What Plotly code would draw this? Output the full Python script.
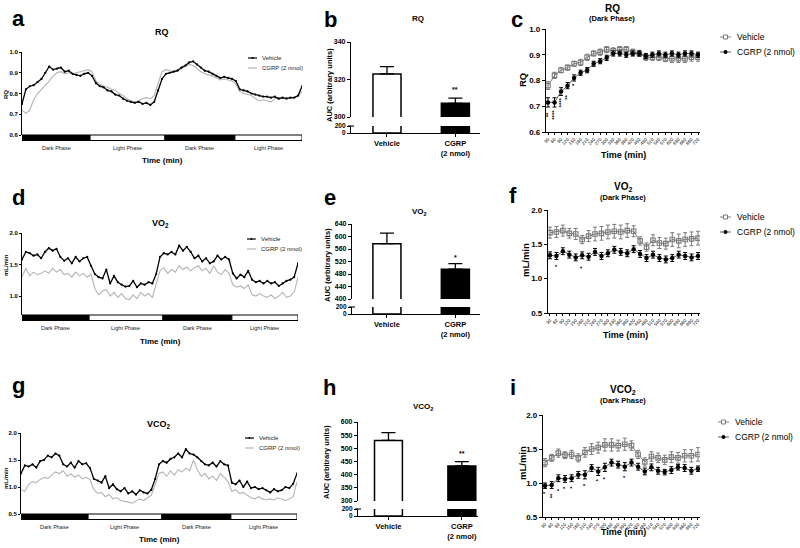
import plotly.graph_objects as go

W, H = 800, 548
FONT = "Liberation Sans, Arial, sans-serif"

# ======================= DATA =======================
# Panels a, d, g : 48 h recordings, one value every 40 min
ts_minutes = list(range(0, 2881, 40))
rq_vehicle = [0.75, 0.82, 0.835, 0.84, 0.855, 0.87, 0.90, 0.93, 0.915, 0.92, 0.925, 0.905, 0.91, 0.895, 0.89,
              0.885, 0.895, 0.90, 0.885, 0.85, 0.835, 0.83, 0.815, 0.81, 0.795, 0.79, 0.775, 0.765, 0.76, 0.755,
              0.76, 0.75, 0.755, 0.745, 0.76, 0.815, 0.87, 0.895, 0.90, 0.905, 0.91, 0.925, 0.935, 0.95, 0.955,
              0.94, 0.925, 0.91, 0.905, 0.895, 0.885, 0.875, 0.88, 0.875, 0.87, 0.86, 0.82, 0.815, 0.81, 0.80,
              0.795, 0.79, 0.785, 0.785, 0.78, 0.785, 0.775, 0.78, 0.775, 0.78, 0.78, 0.79, 0.835]
rq_cgrp = [0.72, 0.705, 0.72, 0.77, 0.80, 0.82, 0.835, 0.86, 0.885, 0.90, 0.905, 0.895, 0.90, 0.895, 0.90,
           0.905, 0.91, 0.915, 0.905, 0.86, 0.845, 0.835, 0.83, 0.82, 0.815, 0.80, 0.79, 0.775, 0.765, 0.76,
           0.765, 0.775, 0.78, 0.775, 0.79, 0.85, 0.905, 0.915, 0.91, 0.905, 0.915, 0.92, 0.93, 0.94, 0.935,
           0.92, 0.905, 0.895, 0.89, 0.885, 0.875, 0.865, 0.87, 0.865, 0.86, 0.845, 0.81, 0.80, 0.795, 0.79,
           0.775, 0.765, 0.77, 0.765, 0.76, 0.775, 0.78, 0.775, 0.78, 0.775, 0.78, 0.785, 0.81]
vo2_vehicle = [1.58, 1.70, 1.68, 1.64, 1.66, 1.60, 1.70, 1.76, 1.72, 1.75, 1.62, 1.56, 1.60, 1.52, 1.62,
               1.55, 1.60, 1.62, 1.48, 1.35, 1.30, 1.28, 1.42, 1.20, 1.32, 1.22, 1.18, 1.15, 1.16, 1.24,
               1.14, 1.20, 1.18, 1.22, 1.20, 1.35, 1.62, 1.68, 1.66, 1.70, 1.66, 1.80, 1.72, 1.78, 1.70,
               1.60, 1.64, 1.55, 1.60, 1.52, 1.55, 1.64, 1.58, 1.62, 1.58, 1.36, 1.28, 1.34, 1.30, 1.40,
               1.26, 1.22, 1.24, 1.20, 1.24, 1.20, 1.22, 1.16, 1.20, 1.24, 1.26, 1.30, 1.52]
vo2_cgrp = [1.30, 1.44, 1.32, 1.38, 1.34, 1.36, 1.40, 1.36, 1.44, 1.38, 1.42, 1.34, 1.36, 1.30, 1.38,
            1.32, 1.36, 1.30, 1.35, 1.12, 1.02, 1.08, 1.10, 1.00, 1.06, 0.98, 1.04, 0.96, 0.94, 1.02,
            0.96, 1.06, 1.00, 1.04, 0.98, 1.20, 1.40, 1.45, 1.36, 1.42, 1.38, 1.48, 1.42, 1.46, 1.40,
            1.45, 1.48, 1.40, 1.44, 1.36, 1.48, 1.38, 1.34, 1.42, 1.36, 1.18, 1.14, 1.16, 1.12, 1.18,
            1.02, 1.00, 1.04, 1.00, 0.98, 1.02, 0.96, 1.00, 1.06, 0.98, 1.00, 1.06, 1.30]
vco2_vehicle = [1.25, 1.40, 1.38, 1.42, 1.36, 1.48, 1.50, 1.58, 1.55, 1.62, 1.58, 1.42, 1.38, 1.45, 1.36,
                1.48, 1.42, 1.44, 1.35, 1.15, 1.12, 1.08, 1.20, 0.98, 1.05, 0.96, 0.92, 0.98, 0.88, 0.92,
                0.86, 0.94, 0.90, 0.88, 0.95, 1.15, 1.42, 1.48, 1.45, 1.52, 1.55, 1.62, 1.55, 1.70, 1.62,
                1.60, 1.55, 1.48, 1.42, 1.40, 1.45, 1.38, 1.48, 1.42, 1.40, 1.08, 1.05, 1.12, 1.00, 1.10,
                0.98, 1.00, 0.96, 0.98, 0.94, 0.90, 0.96, 0.92, 0.94, 1.00, 0.98, 1.06, 1.25]
vco2_cgrp = [0.95, 0.92, 1.05, 1.10, 1.08, 1.14, 1.18, 1.16, 1.22, 1.28, 1.25, 1.30, 1.20, 1.24, 1.18,
             1.22, 1.15, 1.18, 1.14, 0.95, 0.88, 0.90, 0.82, 0.86, 0.78, 0.80, 0.75, 0.74, 0.72, 0.70,
             0.74, 0.78, 0.75, 0.80, 0.85, 1.05, 1.25, 1.28, 1.20, 1.30, 1.22, 1.32, 1.28, 1.35, 1.30,
             1.50, 1.32, 1.20, 1.25, 1.15, 1.20, 1.12, 1.25, 1.18, 1.10, 0.92, 0.95, 0.88, 0.90, 0.85,
             0.80, 0.78, 0.82, 0.78, 0.76, 0.78, 0.76, 0.80, 0.78, 0.75, 0.78, 0.82, 1.10]
phase_names = ["Dark Phase", "Light Phase", "Dark Phase", "Light Phase"]
phase_edges = [0, 700, 1470, 2190, 2880]
phase_dark = [True, False, True, False]

# Panels b, e, h : AUC bars
groups = ["Vehicle", "CGRP (2 nmol)"]
group_ticktext = ["<b>Vehicle</b>", "<b>CGRP</b><br><b>(2 nmol)</b>"]
auc_rq = [323.0, 307.3]
auc_rq_sem = [3.9, 2.8]
auc_rq_sig = ["", "**"]
auc_vo2 = [577.0, 495.5]
auc_vo2_sem = [34.0, 18.0]
auc_vo2_sig = ["", "*"]
auc_vco2 = [530.0, 433.0]
auc_vco2_sem = [29.5, 16.5]
auc_vco2_sig = ["", "**"]

# Panels c, f, i : dark phase, 30-min bins
dark_minutes = list(range(30, 721, 30))
rq_dark_vehicle = [0.78, 0.82, 0.84, 0.85, 0.865, 0.87, 0.89, 0.905, 0.91, 0.92, 0.915, 0.92,
                   0.92, 0.91, 0.905, 0.89, 0.89, 0.89, 0.885, 0.885, 0.885, 0.885, 0.89, 0.89]
rq_dark_vehicle_sem = [0.015, 0.012, 0.010, 0.010, 0.010, 0.012, 0.012, 0.010, 0.012, 0.012, 0.012, 0.012,
                       0.012, 0.012, 0.012, 0.012, 0.012, 0.012, 0.012, 0.015, 0.015, 0.015, 0.015, 0.015]
rq_dark_cgrp = [0.715, 0.715, 0.757, 0.78, 0.81, 0.83, 0.84, 0.865, 0.875, 0.888, 0.905, 0.905,
                0.90, 0.905, 0.905, 0.895, 0.90, 0.905, 0.90, 0.905, 0.90, 0.905, 0.905, 0.90]
rq_dark_cgrp_sem = [0.018, 0.018, 0.015, 0.012, 0.012, 0.010, 0.010, 0.010, 0.010, 0.010, 0.010, 0.010,
                    0.010, 0.010, 0.010, 0.010, 0.010, 0.010, 0.010, 0.010, 0.010, 0.010, 0.010, 0.010]
rq_dark_sig = ["**", "****", "****", "**", "*"] + [""] * 19
rq_dark_sig_y = [0.665, 0.665, 0.715, 0.735, 0.783] + [None] * 19

vo2_dark_vehicle = [1.67, 1.68, 1.70, 1.66, 1.65, 1.57, 1.62, 1.65, 1.66, 1.68, 1.69, 1.68,
                    1.70, 1.69, 1.55, 1.46, 1.56, 1.52, 1.51, 1.57, 1.55, 1.57, 1.58, 1.59]
vo2_dark_vehicle_sem = [0.08, 0.08, 0.08, 0.07, 0.08, 0.06, 0.08, 0.10, 0.10, 0.10, 0.10, 0.10,
                        0.10, 0.08, 0.06, 0.06, 0.08, 0.08, 0.08, 0.10, 0.10, 0.10, 0.10, 0.10]
vo2_dark_cgrp = [1.34, 1.33, 1.40, 1.35, 1.31, 1.34, 1.32, 1.39, 1.33, 1.37, 1.42, 1.39,
                 1.37, 1.43, 1.36, 1.30, 1.35, 1.30, 1.28, 1.30, 1.35, 1.33, 1.31, 1.33]
vo2_dark_cgrp_sem = [0.05] * 24
vo2_dark_sig = ["", "*", "", "", "", "*"] + [""] * 18
vo2_dark_sig_y = [None, 1.19, None, None, None, 1.16] + [None] * 18

vco2_dark_vehicle = [1.30, 1.37, 1.44, 1.41, 1.42, 1.37, 1.45, 1.50, 1.52, 1.56, 1.56, 1.55,
                     1.57, 1.55, 1.42, 1.31, 1.39, 1.37, 1.34, 1.38, 1.37, 1.40, 1.40, 1.42]
vco2_dark_vehicle_sem = [0.06, 0.05, 0.06, 0.05, 0.06, 0.06, 0.07, 0.08, 0.08, 0.09, 0.09, 0.08,
                         0.09, 0.07, 0.06, 0.06, 0.07, 0.07, 0.07, 0.08, 0.08, 0.09, 0.09, 0.10]
vco2_dark_cgrp = [0.96, 0.97, 1.07, 1.06, 1.07, 1.12, 1.12, 1.22, 1.17, 1.23, 1.30, 1.27,
                  1.24, 1.30, 1.24, 1.17, 1.23, 1.18, 1.16, 1.19, 1.23, 1.22, 1.18, 1.21]
vco2_dark_cgrp_sem = [0.04, 0.05, 0.05, 0.05, 0.05, 0.05, 0.06, 0.05, 0.06, 0.06, 0.05, 0.05,
                      0.06, 0.05, 0.05, 0.05, 0.05, 0.05, 0.04, 0.05, 0.04, 0.05, 0.05, 0.04]
vco2_dark_sig = ["*", "**", "*", "*", "*", "", "*", "", "*", "*", "", "", "*"] + [""] * 11
vco2_dark_sig_y = [0.855, 0.815, 0.90, 0.94, 0.94, None, 0.98, None, 1.04, 1.08, None, None, 1.10] + [None] * 11

# ======================= HELPERS =======================
def xd(p0, p1):
    return [p0 / W, p1 / W]

def yd(top, bottom):
    return [1 - bottom / H, 1 - top / H]

fig = go.Figure()
layout = dict(width=W, height=H, margin=dict(l=0, r=0, t=0, b=0), template="none",
              paper_bgcolor="white", plot_bgcolor="white", showlegend=False,
              font=dict(family=FONT, color="black"))
shapes = []
annots = []

def text(x, y, s, size, bold=False, angle=0, xanchor="center", yanchor="middle", color="black"):
    annots.append(dict(x=x / W, y=1 - y / H, xref="paper", yref="paper", text=s, showarrow=False,
                       textangle=angle, xanchor=xanchor, yanchor=yanchor,
                       font=dict(size=size, family=FONT, color=color, weight="bold" if bold else "normal")))

def tf(size, bold=False, color="black"):
    return dict(size=size, family=FONT, color=color, weight="bold" if bold else "normal")

def axis_common(**kw):
    d = dict(showgrid=False, zeroline=False, showline=True, linecolor="black", linewidth=1.2,
             ticks="outside", ticklen=3, tickwidth=1.1, tickcolor="black", fixedrange=True)
    d.update(kw)
    return d

# ---------------- time-course panels (a, d, g) ----------------
def ts_panel(i, xdom, ydom, yrange, ytickvals, vehicle, cgrp, ylabel_y, legend_px, title, title_y,
             letter_y, time_y, ylab):
    xa = "x" if i == 1 else f"x{i}"
    ya = "y" if i == 1 else f"y{i}"
    layout["xaxis" if i == 1 else f"xaxis{i}"] = dict(domain=xdom, range=[0, 2880], visible=False,
                                                      anchor=ya, fixedrange=True, showgrid=False)
    layout["yaxis" if i == 1 else f"yaxis{i}"] = axis_common(domain=ydom, range=yrange, anchor=xa,
                                                             tickvals=ytickvals, tickformat=".1f",
                                                             tickfont=tf(6, True), ticklen=2, linewidth=1)
    fig.add_trace(go.Scatter(x=ts_minutes, y=cgrp, mode="lines", line=dict(color="#b4b4b4", width=1.1),
                             xaxis=xa, yaxis=ya, name=groups[1]))
    fig.add_trace(go.Scatter(x=ts_minutes, y=vehicle, mode="lines+markers",
                             line=dict(color="black", width=1.3), marker=dict(size=2.2, color="black"),
                             xaxis=xa, yaxis=ya, name=groups[0]))
    dom_h = (ydom[1] - ydom[0]) * H
    bar_h = 5.5 / dom_h
    for k, name in enumerate(phase_names):
        shapes.append(dict(type="rect", xref=xa, yref=f"{ya} domain", x0=phase_edges[k], x1=phase_edges[k + 1],
                           y0=-bar_h, y1=0, fillcolor="black" if phase_dark[k] else "white",
                           line=dict(color="black", width=1)))
        annots.append(dict(x=(phase_edges[k] + phase_edges[k + 1]) / 2, y=-bar_h - 2.0 / dom_h,
                           xref=xa, yref=f"{ya} domain", text=name, showarrow=False, yanchor="top",
                           font=tf(5.5, color="#222")))
    # legend
    lx, ly = legend_px
    shapes.append(dict(type="line", xref="paper", yref="paper", x0=lx / W, x1=(lx + 9) / W,
                       y0=1 - ly / H, y1=1 - ly / H, line=dict(color="black", width=1.2)))
    shapes.append(dict(type="circle", xref="paper", yref="paper", x0=(lx + 3.5) / W, x1=(lx + 5.5) / W,
                       y0=1 - (ly + 1) / H, y1=1 - (ly - 1) / H, fillcolor="black", line=dict(width=0)))
    shapes.append(dict(type="line", xref="paper", yref="paper", x0=lx / W, x1=(lx + 9) / W,
                       y0=1 - (ly + 10) / H, y1=1 - (ly + 10) / H, line=dict(color="#b4b4b4", width=1.2)))
    text(lx + 12, ly, groups[0], 6, xanchor="left", color="#222")
    text(lx + 12, ly + 10, groups[1], 6, xanchor="left", color="#222")
    text((xdom[0] + xdom[1]) / 2 * W, title_y, title, 9, bold=True)
    text(18, letter_y, "<b>" + "adg"[(i - 1)] + "</b>", 22)
    text((xdom[0] + xdom[1]) / 2 * W, time_y, "Time (min)", 8, bold=True)
    text(6, ylabel_y, ylab, 6, bold=True, angle=-90)

ts_panel(1, xd(22, 302), yd(52, 135), [0.6, 1.0], [0.6, 0.7, 0.8, 0.9, 1.0], rq_vehicle, rq_cgrp,
         95, (248, 58), "RQ", 32, 19, 161, "RQ")
ts_panel(2, xd(22, 298), yd(233, 315), [0.7, 2.0], [1.0, 1.5, 2.0], vo2_vehicle, vo2_cgrp,
         265, (247, 239), "VO<sub>2</sub>", 223, 197, 341, "mL/min")
ts_panel(3, xd(21, 297), yd(433, 514), [0.5, 2.0], [0.5, 1.0, 1.5, 2.0], vco2_vehicle, vco2_cgrp,
         478, (245, 438), "VCO<sub>2</sub>", 424, 385, 539, "mL/min")

# ---------------- AUC bar panels (b, e, h) ----------------
def bar_panel(xi, yu, yl, xdom, yudom, yldom, urange, utick, xrange, width, vals, sems, sigs,
              letter, letter_xy, title, title_xy, ylab_xy, sig_y):
    xa, yau, yal = f"x{xi}", f"y{yu}", f"y{yl}"
    layout[f"xaxis{xi}"] = axis_common(domain=xdom, range=xrange, anchor=yal, tickvals=[0, 1],
                                       ticktext=group_ticktext, tickfont=tf(7.5),
                                       ticklen=3, linewidth=1.3)
    layout[f"yaxis{yu}"] = axis_common(domain=yudom, range=urange, anchor=xa, tickvals=utick,
                                       tickfont=tf(7, True), linewidth=1.3)
    layout[f"yaxis{yl}"] = axis_common(domain=yldom, range=[0, 200], anchor=xa, tickvals=[0, 200],
                                       tickfont=tf(6.5, True), linewidth=1.3)
    colors = ["white", "black"]
    for ax_y, with_err in ((yau, True), (yal, False)):
        fig.add_trace(go.Bar(x=[0, 1], y=vals, width=width, xaxis=xa, yaxis=ax_y,
                             marker=dict(color=colors, line=dict(color="black", width=1.5)),
                             error_y=dict(type="data", array=sems, arrayminus=[0, 0], symmetric=False,
                                          color="black", thickness=1.3, width=7, visible=with_err)))
    # break cap on the lower axis segment
    shapes.append(dict(type="line", xref="paper", yref="paper", x0=xdom[0] - 3 / W, x1=xdom[0] + 3 / W,
                       y0=yldom[1], y1=yldom[1], line=dict(color="black", width=1.1)))
    for k, s in enumerate(sigs):
        if s:
            annots.append(dict(x=k, y=sig_y, xref=xa, yref=yau, text=s, showarrow=False,
                               font=tf(7, True)))
    text(letter_xy[0], letter_xy[1], f"<b>{letter}</b>", 22)
    text(title_xy[0], title_xy[1], title, 8, bold=True)
    text(ylab_xy[0], ylab_xy[1], "AUC (arbitrary units)", 7.5, bold=True, angle=-90)

bar_panel(4, 4, 5, xd(351, 480), yd(42, 117), yd(126, 133), [300, 340], [300, 320, 340],
          [-0.526, 1.36], 0.41, auc_rq, auc_rq_sem, auc_rq_sig, "b", (330, 20), "RQ", (418, 18),
          (329, 85), 314.6)
bar_panel(5, 6, 7, xd(352, 480), yd(224, 299), yd(307, 314), [400, 640],
          [400, 440, 480, 520, 560, 600, 640], [-0.51, 1.36], 0.41, auc_vo2, auc_vo2_sem, auc_vo2_sig,
          "e", (330, 197), "VO<sub>2</sub>", (419, 212), (328, 265), 534)
bar_panel(6, 8, 9, xd(358, 478), yd(422, 501), yd(509, 516), [300, 600],
          [300, 350, 400, 450, 500, 550, 600], [-0.415, 1.22], 0.38, auc_vco2, auc_vco2_sem, auc_vco2_sig,
          "h", (329, 387), "VCO<sub>2</sub>", (423, 407), (326, 462), 482)

# ---------------- dark-phase panels (c, f, i) ----------------
def dark_panel(xi, yi, xdom, ydom, yrange, ytick, veh, veh_sem, cg, cg_sem, sig, sig_y,
               letter, letter_xy, title, title_xy, ylab, ylab_xy, time_xy, legend_px):
    xa, ya = f"x{xi}", f"y{yi}"
    layout[f"xaxis{xi}"] = axis_common(domain=xdom, range=[20.8, 729.2], anchor=ya, tickvals=dark_minutes,
                                       ticktext=[str(m) for m in dark_minutes], tickangle=-45,
                                       tickfont=tf(4.5), ticklen=2, linewidth=1.2)
    layout[f"yaxis{yi}"] = axis_common(domain=ydom, range=yrange, anchor=xa, tickvals=ytick,
                                       tickformat=".1f", tickfont=tf(8, True), linewidth=1.2)
    fig.add_trace(go.Scatter(x=dark_minutes, y=veh, mode="lines+markers", xaxis=xa, yaxis=ya,
                             line=dict(color="#7a7a7a", width=1),
                             marker=dict(symbol="square-open", size=4.5, color="#7a7a7a", line=dict(width=1.1)),
                             error_y=dict(type="data", array=veh_sem, color="#7a7a7a", thickness=1, width=2)))
    fig.add_trace(go.Scatter(x=dark_minutes, y=cg, mode="lines+markers", xaxis=xa, yaxis=ya,
                             line=dict(color="#333", width=0.8),
                             marker=dict(symbol="circle", size=4.5, color="black"),
                             error_y=dict(type="data", array=cg_sem, color="black", thickness=1, width=2)))
    for m, s, yv in zip(dark_minutes, sig, sig_y):
        if s:
            annots.append(dict(x=m, y=yv, xref=xa, yref=ya, text=s, showarrow=False, textangle=-90,
                               font=tf(6, True)))
    text(letter_xy[0], letter_xy[1], f"<b>{letter}</b>", 22)
    text(title_xy[0], title_xy[1], title, 10, bold=True)
    text(title_xy[0], title_xy[1] + 10, "(Dark Phase)", 7.5, bold=True)
    text(ylab_xy[0], ylab_xy[1], ylab, 9.5, bold=True, angle=-90)
    text(time_xy[0], time_xy[1], "Time (min)", 9, bold=True)
    # legend
    lx, ly = legend_px
    shapes.append(dict(type="line", xref="paper", yref="paper", x0=lx / W, x1=(lx + 11) / W,
                       y0=1 - ly / H, y1=1 - ly / H, line=dict(color="#7a7a7a", width=1)))
    shapes.append(dict(type="rect", xref="paper", yref="paper", x0=(lx + 3.5) / W, x1=(lx + 7.5) / W,
                       y0=1 - (ly + 2) / H, y1=1 - (ly - 2) / H, fillcolor="white",
                       line=dict(color="#7a7a7a", width=1)))
    shapes.append(dict(type="line", xref="paper", yref="paper", x0=lx / W, x1=(lx + 11) / W,
                       y0=1 - (ly + 15) / H, y1=1 - (ly + 15) / H, line=dict(color="#333", width=0.8)))
    shapes.append(dict(type="circle", xref="paper", yref="paper", x0=(lx + 3.5) / W, x1=(lx + 7.5) / W,
                       y0=1 - (ly + 17) / H, y1=1 - (ly + 13) / H, fillcolor="black", line=dict(width=0)))
    text(lx + 15, ly, groups[0], 8.5, xanchor="left")
    text(lx + 15, ly + 15, groups[1], 8.5, xanchor="left")

dark_panel(7, 10, xd(546, 700), yd(29, 132), [0.6, 1.0], [0.6, 0.7, 0.8, 0.9, 1.0],
           rq_dark_vehicle, rq_dark_vehicle_sem, rq_dark_cgrp, rq_dark_cgrp_sem, rq_dark_sig, rq_dark_sig_y,
           "c", (517, 20), "RQ", (612, 9), "RQ", (522, 80), (623, 155), (720, 37))
dark_panel(8, 11, xd(548, 700), yd(210, 313), [0.5, 2.0], [0.5, 1.0, 1.5, 2.0],
           vo2_dark_vehicle, vo2_dark_vehicle_sem, vo2_dark_cgrp, vo2_dark_cgrp_sem, vo2_dark_sig,
           vo2_dark_sig_y, "f", (513, 195), "VO<sub>2</sub>", (623, 187), "mL/min", (525, 260),
           (625, 335), (720, 217))
dark_panel(9, 12, xd(543, 700), yd(415, 517), [0.5, 2.0], [0.5, 1.0, 1.5, 2.0],
           vco2_dark_vehicle, vco2_dark_vehicle_sem, vco2_dark_cgrp, vco2_dark_cgrp_sem, vco2_dark_sig,
           vco2_dark_sig_y, "i", (513, 387), "VCO<sub>2</sub>", (623, 390), "mL/min", (522, 463),
           (623, 532), (718, 422))

layout["shapes"] = shapes
layout["annotations"] = annots
fig.update_layout(**layout)
fig.write_html("out.html", config={"displayModeBar": False},
               post_script="document.body.style.margin='0';document.body.style.overflow='hidden';")
